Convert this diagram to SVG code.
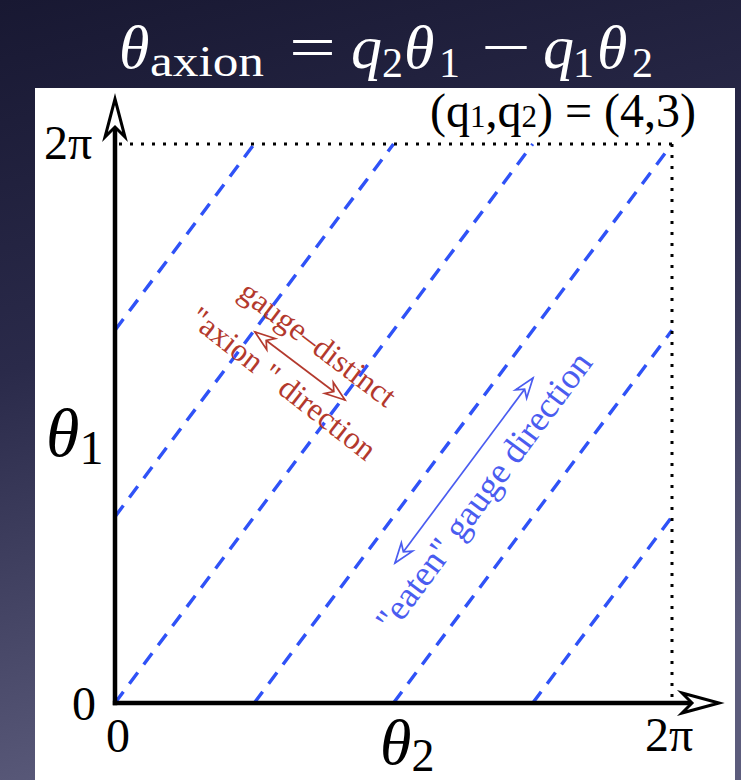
<svg xmlns="http://www.w3.org/2000/svg" width="741" height="780" viewBox="0 0 741 780">
  <defs>
    <linearGradient id="bg" x1="0" y1="0" x2="0.25" y2="1">
      <stop offset="0" stop-color="#181832"/>
      <stop offset="0.45" stop-color="#2a2a4a"/>
      <stop offset="1" stop-color="#5c5c7c"/>
    </linearGradient>
    <marker id="redHead" markerUnits="userSpaceOnUse" markerWidth="30" markerHeight="30" viewBox="-25 -12 30 24" refX="0" refY="0" orient="auto-start-reverse">
      <path d="M0,0 L-20,-7 L-14,0 L-20,7 Z" fill="#ffffff" stroke="#b3392d" stroke-width="1.7" stroke-linejoin="miter"/>
    </marker>
    <marker id="blueHead" markerUnits="userSpaceOnUse" markerWidth="30" markerHeight="30" viewBox="-25 -12 30 24" refX="0" refY="0" orient="auto-start-reverse">
      <path d="M0,0 L-20,-7 L-14,0 L-20,7 Z" fill="#ffffff" stroke="#4a5cf0" stroke-width="1.7" stroke-linejoin="miter"/>
    </marker>
  </defs>
  <style>
    .serif { font-family: "Liberation Serif", "Times New Roman", serif; }
    .it { font-style: italic; }
    .title { fill: #ffffff; }
    .lbl { fill: #000000; font-size: 48px; }
    .dash { stroke: #2f52f7; stroke-width: 3.4; stroke-dasharray: 14 10; fill: none; }
    .dot { stroke: #000000; stroke-width: 3; stroke-dasharray: 3 8; fill: none; }
    .axis { stroke: #000000; stroke-width: 4.5; fill: none; }
    .head { fill: #ffffff; stroke: #000000; stroke-width: 3; stroke-linejoin: miter; }
    .red { fill: #b3392d; font-size: 32px; }
    .blue { fill: #4a5cf0; font-size: 36px; }
  </style>

  <rect x="0" y="0" width="741" height="780" fill="url(#bg)"/>
  <rect id="panel" x="35" y="88" width="700" height="700" fill="#ffffff"/>

  <g id="title" class="serif title">
    <text y="68" font-size="62"><tspan x="119" class="it">θ</tspan></text>
    <text y="76" font-size="44"><tspan x="150" textLength="114" lengthAdjust="spacingAndGlyphs">axion</tspan></text>
    <text y="68" font-size="62"><tspan x="289" textLength="47" lengthAdjust="spacingAndGlyphs">=</tspan></text>
    <text y="68" font-size="62"><tspan x="351" class="it">q</tspan></text>
    <text y="77" font-size="42"><tspan x="382">2</tspan></text>
    <text y="68" font-size="62"><tspan x="404" class="it">θ</tspan></text>
    <text y="77" font-size="42"><tspan x="439">1</tspan></text>
    <text y="68" font-size="62"><tspan x="481" textLength="50" lengthAdjust="spacingAndGlyphs">−</tspan></text>
    <text y="68" font-size="62"><tspan x="543" class="it">q</tspan></text>
    <text y="77" font-size="42"><tspan x="573">1</tspan></text>
    <text y="68" font-size="62"><tspan x="597" class="it">θ</tspan></text>
    <text y="77" font-size="42"><tspan x="632">2</tspan></text>
  </g>

  <g id="grid-lines">
    <path class="dash" d="M115,703 L532.75,144"/>
    <path class="dash" d="M254.25,703 L672,144"/>
    <path class="dash" d="M393.5,703 L672,330.3"/>
    <path class="dash" d="M532.75,703 L672,516.7"/>
    <path class="dash" d="M115,516.7 L393.5,144"/>
    <path class="dash" d="M115,330.3 L254.25,144"/>
    <path class="dot" d="M119,144 L672,144"/>
    <path class="dot" d="M672,144 L672,700"/>
  </g>

  <g id="axes">
    <path class="axis" d="M115,705.2 L115,126"/>
    <path class="axis" d="M112.8,703 L692,703"/>
    <path class="head" d="M115,99 L125,137 L115,127 L105,137 Z"/>
    <path class="head" d="M719,703 L682,713 L692,703 L682,693 Z"/>
  </g>

  <g id="axis-labels" class="serif lbl">
    <text x="44" y="159">2π</text>
    <text x="72" y="720">0</text>
    <text x="106" y="752">0</text>
    <text x="645" y="751">2π</text>
    <text y="127"><tspan x="430">(q</tspan><tspan font-size="31">1</tspan><tspan>,q</tspan><tspan font-size="31">2</tspan><tspan>) = (4,3)</tspan></text>
  </g>

  <g id="theta1-label" class="serif">
    <text y="456" font-size="68"><tspan x="46" class="it">θ</tspan><tspan font-size="48" dy="8">1</tspan></text>
  </g>
  <g id="theta2-label" class="serif">
    <text y="764" font-size="64"><tspan x="380" class="it">θ</tspan><tspan font-size="46" dy="7">2</tspan></text>
  </g>

  <g id="connectors">
    <path id="axion-arrow" d="M255,332 L345,400" stroke="#b3392d" stroke-width="1.7" fill="none" marker-start="url(#redHead)" marker-end="url(#redHead)"/>
    <path id="eaten-arrow" d="M395,563 L533,378" stroke="#4a5cf0" stroke-width="1.7" fill="none" marker-start="url(#blueHead)" marker-end="url(#blueHead)"/>
  </g>

  <g id="axion-label" class="serif red">
    <text transform="translate(237,296) rotate(37)">gauge–distinct</text>
    <text transform="translate(187,322) rotate(38)">"axion " direction</text>
  </g>

  <g id="eaten-label" class="serif blue">
    <text transform="translate(393,634) rotate(-53.5)">"eaten" gauge direction</text>
  </g>
</svg>
